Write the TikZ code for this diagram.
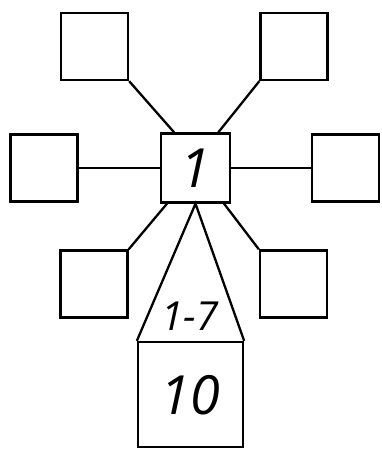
\documentclass[tikz,border=0pt]{standalone}
\usepackage{fontspec}
\setmainfont{Open Sans}
\usepackage{tikz}
\usetikzlibrary{calc}

\begin{document}
\begin{tikzpicture}[x=1pt,y=-1pt,line width=2.3pt,
  sq/.style={draw,minimum size=#1,inner sep=0pt,font=\itshape},
  sq/.default=67pt]
  \useasboundingbox (0,0) rectangle (381,449);
  \node[sq=69pt,font=\itshape\fontsize{54}{54}\selectfont] (mid) at (195.5,168) {1};
  \node[sq] (tl) at (94.5,46.5) {};
  \node[sq] (tr) at (294,46.5) {};
  \node[sq] (lf) at (44,168) {};
  \node[sq] (rt) at (345.5,168) {};
  \node[sq] (bl) at (94,284) {};
  \node[sq] (br) at (293.5,284) {};
  \node[sq=105pt,font=\itshape\fontsize{54}{54}\selectfont,text depth=-6pt] (ten) at (190.5,394.5) {10};
  % spokes
  \draw (tl.south east) -- ($(mid.north west)!0.2!(mid.north east)$);
  \draw (tr.south west) -- ($(mid.north west)!0.82!(mid.north east)$);
  \draw (lf) -- (mid);
  \draw (mid) -- (rt);
  \draw (bl.north east) -- ($(mid.south west)!0.1!(mid.south east)$);
  \draw (br.north west) -- ($(mid.south west)!0.9!(mid.south east)$);
  % triangle
  \draw[line join=miter] (ten.north west) -- (mid.south) -- (ten.north east);
  \node[font=\itshape\fontsize{40}{40}\selectfont] (range) at (190,316) {1-7};
\end{tikzpicture}
\end{document}
